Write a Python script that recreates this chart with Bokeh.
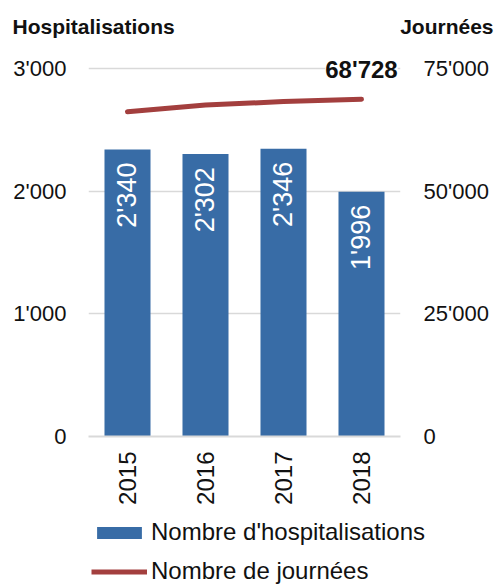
import math
from bokeh.plotting import figure
from bokeh.layouts import column
from bokeh.core.properties import value
from bokeh.models import (ColumnDataSource, LinearAxis, Range1d, FactorRange, FixedTicker,
                          LabelSet, Label, Legend, LegendItem)
from bokeh.embed import file_html
from bokeh.resources import INLINE

# Data
years = ["2015", "2016", "2017", "2018"]
hospitalisations = [2340, 2302, 2346, 1996]
journees = [66200, 67550, 68250, 68728]
left_ticks = [0, 1000, 2000, 3000]
right_ticks = [0, 25000, 50000, 75000]

FONT = "Liberation Sans"
TEXT = "#111111"
BAR = "#386CA6"
LINE = "#A33F3E"
GRID = "#D9D9D9"

W = 499
HEAD_H, CHART_H, LEG_H = 45, 468, 72
PAD_L, PAD_R, PAD_B = 88, 99, 77
AXIS_PX = 368  # pixel height of the 0..3000 span


def fmt(v):
    return f"{int(v):,}".replace(",", "'")


def blank(height):
    f = figure(width=W, height=height, x_range=Range1d(0, 1), y_range=Range1d(0, 1),
               output_backend="svg", toolbar_location=None, min_border=0,
               frame_align=False)
    f.axis.visible = False
    f.grid.grid_line_color = None
    f.outline_line_color = None
    return f


# Header with the two axis titles
head = blank(HEAD_H)
head.add_layout(Label(x=12, y=HEAD_H - 26, x_units="screen", y_units="screen",
                      text="Hospitalisations", text_align="left", text_baseline="middle",
                      text_font=FONT, text_font_size="21px", text_font_style="bold",
                      text_color=TEXT))
head.add_layout(Label(x=493, y=HEAD_H - 26, x_units="screen", y_units="screen",
                      text="Journées", text_align="right", text_baseline="middle",
                      text_font=FONT, text_font_size="21px", text_font_style="bold",
                      text_color=TEXT))

# Main chart
src = ColumnDataSource(dict(
    year=years,
    hosp=hospitalisations,
    hosp_lbl=[fmt(v) for v in hospitalisations],
    days=journees,
))

frame_h = CHART_H - PAD_B
p = figure(width=W, height=CHART_H, x_range=FactorRange(*years, range_padding=0),
           y_range=Range1d(0, 3000 * frame_h / AXIS_PX), output_backend="svg",
           toolbar_location=None, min_border_left=PAD_L, min_border_right=PAD_R,
           min_border_top=0, min_border_bottom=PAD_B, frame_align=False)
p.outline_line_color = None
p.extra_y_ranges = {"days": Range1d(0, 75000 * frame_h / AXIS_PX)}

bars = p.vbar(x="year", top="hosp", width=0.59, source=src, fill_color=BAR, line_color=None)
line = p.line(x="year", y="days", source=src, y_range_name="days",
              line_color=LINE, line_width=5, line_cap="round")

# Left axis
ya = p.yaxis[0]
ya.ticker = FixedTicker(ticks=left_ticks)
ya.major_label_overrides = {t: fmt(t) for t in left_ticks}
ya.axis_line_color = None
ya.major_tick_line_color = None
ya.minor_tick_line_color = None
ya.major_label_standoff = 16
ya.major_label_text_font = FONT
ya.major_label_text_font_size = "22px"
ya.major_label_text_color = TEXT

# Right axis
ra = LinearAxis(y_range_name="days", ticker=FixedTicker(ticks=right_ticks))
ra.major_label_overrides = {t: fmt(t) for t in right_ticks}
ra.axis_line_color = None
ra.major_tick_line_color = None
ra.minor_tick_line_color = None
ra.major_label_standoff = 17
ra.major_label_text_font = FONT
ra.major_label_text_font_size = "22px"
ra.major_label_text_color = TEXT
p.add_layout(ra, "right")

# Category axis
xa = p.xaxis[0]
xa.axis_line_color = GRID
xa.axis_line_width = 2
xa.major_tick_line_color = None
xa.minor_tick_line_color = None
xa.major_label_orientation = math.pi / 2
xa.major_label_standoff = 9
xa.major_label_text_font = FONT
xa.major_label_text_font_size = "24px"
xa.major_label_text_color = TEXT

p.xgrid.grid_line_color = None
p.ygrid.grid_line_color = GRID
p.ygrid.grid_line_width = 1.5

# Values written inside the bars
p.add_layout(LabelSet(x="year", y="hosp", text="hosp_lbl", source=src, angle=math.pi / 2,
                      text_align="right", text_baseline="middle", y_offset=-13,
                      text_color="white", text_font=value(FONT), text_font_size="27px"))

# Last value of the line
last = ColumnDataSource(dict(year=[years[-1]], days=[journees[-1]], lbl=[fmt(journees[-1])]))
p.add_layout(LabelSet(x="year", y="days", text="lbl", source=last, y_range_name="days",
                      text_align="center", text_baseline="middle", y_offset=30,
                      text_color=TEXT, text_font=value(FONT), text_font_size="24px",
                      text_font_style="bold", background_fill_color="white"))

# Legend strip (sample glyphs sit outside the visible range; only their legend swatches show)
leg = blank(LEG_H)
leg_bar = leg.vbar(x=[5], top=[1], width=0.5, fill_color=BAR, line_color=None)
leg_line = leg.line(x=[5, 6], y=[0, 1], line_color=LINE, line_width=5)
legend = Legend(items=[LegendItem(label="Nombre d'hospitalisations", renderers=[leg_bar]),
                       LegendItem(label="Nombre de journées", renderers=[leg_line])],
                location=(91, 0), orientation="vertical", glyph_width=56, glyph_height=15,
                label_height=24, spacing=11, padding=3, margin=0, label_standoff=4,
                border_line_color=None, background_fill_alpha=0,
                label_text_font=FONT, label_text_font_size="24px", label_text_color=TEXT)
leg.add_layout(legend, "center")

page = column(head, p, leg, spacing=0)
open("out.html", "w").write(file_html(page, INLINE))
